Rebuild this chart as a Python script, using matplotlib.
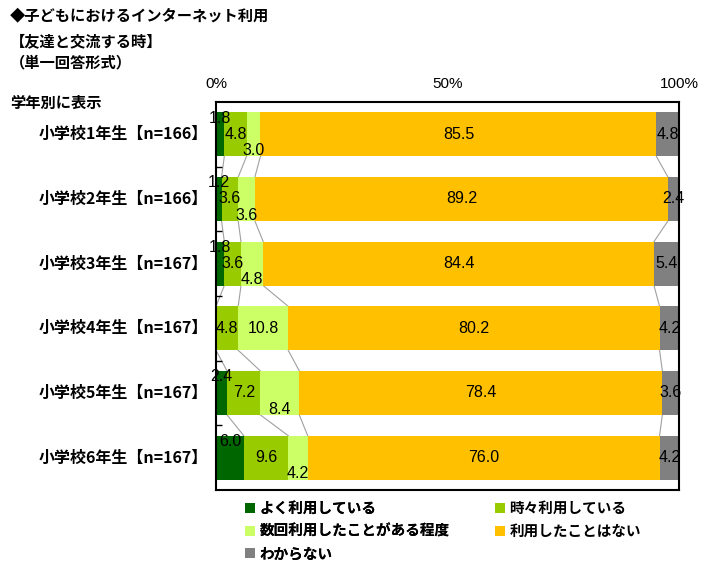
import numpy as np
import matplotlib.pyplot as plt
from matplotlib.patches import Patch

plt.rcParams['font.family'] = ['Noto Sans CJK JP', 'DejaVu Sans']

title_lines = ["◆子どもにおけるインターネット利用", "【友達と交流する時】", "（単一回答形式）"]
group_title = "学年別に表示"
categories = [
    "小学校1年生【n=166】",
    "小学校2年生【n=166】",
    "小学校3年生【n=167】",
    "小学校4年生【n=167】",
    "小学校5年生【n=167】",
    "小学校6年生【n=167】",
]
series_names = ["よく利用している", "時々利用している", "数回利用したことがある程度",
                "利用したことはない", "わからない"]
often = [1.8, 1.2, 1.8, 0.0, 2.4, 6.0]
sometimes = [4.8, 3.6, 3.6, 4.8, 7.2, 9.6]
few_times = [3.0, 3.6, 4.8, 10.8, 8.4, 4.2]
never = [85.5, 89.2, 84.4, 80.2, 78.4, 76.0]
unknown = [4.8, 2.4, 5.4, 4.2, 3.6, 4.2]
colors = ["#006600", "#99CC00", "#CCFF66", "#FFC000", "#808080"]

values = np.array([often, sometimes, few_times, never, unknown])
n_rows = len(categories)
bar_h = 0.68
y = np.arange(n_rows)

fig = plt.figure(figsize=(7.14, 5.71), dpi=100)
ax = fig.add_axes([0.3025, 0.1419, 0.6485, 0.6795])

left = np.zeros(n_rows)
lefts = []
for k in range(values.shape[0]):
    ax.barh(y, values[k], left=left, height=bar_h, color=colors[k],
            label=series_names[k], zorder=2)
    lefts.append(left.copy())
    left = left + values[k]
lefts.append(left.copy())

# connector lines between cumulative boundaries
for k in range(1, values.shape[0]):
    for i in range(n_rows - 1):
        ax.plot([lefts[k][i], lefts[k][i + 1]],
                [i + bar_h / 2, i + 1 - bar_h / 2],
                color="#A0A0A0", lw=0.8, zorder=1)

# value labels
for k in range(values.shape[0]):
    for i in range(n_rows):
        v = values[k][i]
        if v <= 0:
            continue
        cx = lefts[k][i] + v / 2
        cy = i
        if v < 10:
            if k == 0:
                cy = i - 0.25
            elif k == 2:
                cy = i + 0.25
        ax.text(cx, cy, f"{v:.1f}", ha="center", va="center", fontsize=11.5,
                family=["Liberation Sans", "DejaVu Sans"], zorder=3)

ax.set_xlim(0, 100)
ax.set_ylim(n_rows - 0.5, -0.5)
ax.set_xticks([0, 50, 100])
ax.set_xticklabels(["0%", "50%", "100%"], family=["Liberation Sans", "DejaVu Sans"],
                   fontsize=11)
ax.xaxis.tick_top()
ax.tick_params(axis="x", length=0, pad=8)
ax.set_yticks(np.arange(n_rows - 1) + 0.5)
ax.set_yticklabels([])
ax.tick_params(axis="y", direction="in", length=4, width=1)
for i, cat in enumerate(categories):
    ax.text(-1.8, i, cat, ha="right", va="center", fontsize=11.5,
            fontweight="bold", transform=ax.transData)
for s in ax.spines.values():
    s.set_linewidth(1.5)

title_y = [0.974, 0.927, 0.891]
for line, ty in zip(title_lines, title_y):
    fig.text(0.014, ty, line, fontsize=11, fontweight="bold",
             ha="left", va="center")
fig.text(0.014, 0.82, group_title, fontsize=11, fontweight="bold",
         ha="left", va="center")

handles = [Patch(facecolor=c) for c in colors]
leg_kw = dict(loc="upper left", frameon=False, handlelength=0.7, handleheight=0.7,
              handletextpad=0.3, labelspacing=0.45,
              prop={"weight": "bold", "size": 10.5}, borderpad=0, borderaxespad=0)
leg1 = fig.legend([handles[0], handles[2], handles[4]],
                  [series_names[0], series_names[2], series_names[4]],
                  bbox_to_anchor=(0.343, 0.124), **leg_kw)
fig.add_artist(leg1)
fig.legend([handles[1], handles[3]], [series_names[1], series_names[3]],
           bbox_to_anchor=(0.693, 0.124), **leg_kw)

fig.savefig("out.png", dpi=100)
